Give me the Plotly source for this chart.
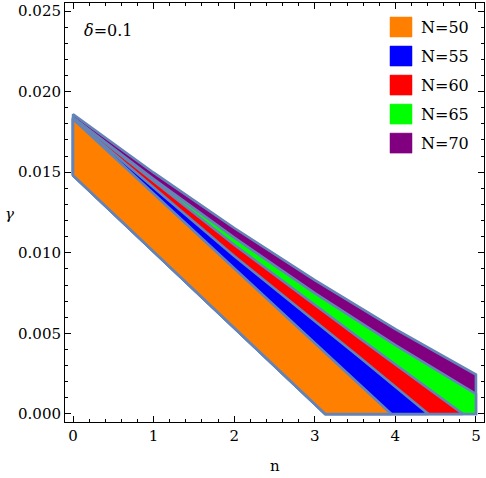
import plotly.graph_objects as go

# ── data ───────────────────────────────────────────────────────────────────
N_VALUES = [50, 55, 60, 65, 70]
COLORS = ["#ff8000", "#0000ff", "#ff0000", "#00ff00", "#800080"]
EDGE = "#6484b8"

# shared lower-left boundary of every region
LOW_N = [0.0, 3.13]
LOW_G = [0.0148, 0.0]

# upper boundary of each region (n, gamma)
UP_N = {
    50: [0.0, 3.95],
    55: [0.0, 2.0, 3.56, 4.41],
    60: [0.0, 2.0, 3.56, 4.84],
    65: [0.0, 1.0, 2.0, 3.0, 4.0, 5.0],
    70: [0.0, 1.0, 2.0, 3.0, 4.0, 5.0],
}
UP_G = {
    50: [0.0183, 0.0],
    55: [0.0183, 0.0098, 0.0035, 0.0],
    60: [0.0184, 0.0105, 0.00468, 0.0],
    65: [0.0184, 0.01457, 0.01094, 0.0075, 0.00427, 0.00124],
    70: [0.0186, 0.01497, 0.01154, 0.0083, 0.00527, 0.00244],
}

X_TICKS = [0, 1, 2, 3, 4, 5]
Y_TICKS = [0.000, 0.005, 0.010, 0.015, 0.020, 0.025]
DELTA = 0.1

SERIF = "DejaVu Serif"


def region(nv):
    un, ug = UP_N[nv], UP_G[nv]
    xs = list(LOW_N) + [un[-1]]
    ys = list(LOW_G) + [0.0]
    if ug[-1] > 0:
        xs.append(un[-1])
        ys.append(ug[-1])
    xs += un[::-1][1:]
    ys += ug[::-1][1:]
    xs.append(LOW_N[0])
    ys.append(LOW_G[0])
    return xs, ys


fig = go.Figure()

# largest region first, orange on top
for nv, col in reversed(list(zip(N_VALUES, COLORS))):
    xs, ys = region(nv)
    fig.add_trace(go.Scatter(
        x=xs, y=ys, mode="lines", fill="toself",
        fillcolor=col, line=dict(color=EDGE, width=2.6),
        name=f"N={nv}", showlegend=False, hoverinfo="skip",
    ))

# legend drawn by hand (big square swatches, like Mathematica)
for i, (nv, col) in enumerate(zip(N_VALUES, COLORS)):
    yc = 27 + i * 29
    y0 = (421.7 - (yc + 10)) / 418.7
    y1 = (421.7 - (yc - 10)) / 418.7
    fig.add_shape(type="rect", xref="paper", yref="paper",
                  x0=(390 - 65) / 419, x1=(412 - 65) / 419, y0=y0, y1=y1,
                  fillcolor=col, line=dict(color=col, width=0.5))
    fig.add_annotation(xref="paper", yref="paper",
                       x=(419 - 65) / 419, y=(421.7 - yc) / 418.7,
                       text=f"N={nv}", showarrow=False,
                       xanchor="left", yanchor="middle",
                       font=dict(family=SERIF, size=16, color="black"))

fig.add_annotation(xref="paper", yref="paper",
                   x=(82 - 65) / 419, y=(421.7 - 30) / 418.7,
                   text=f"<i>δ</i>={DELTA}", showarrow=False,
                   xanchor="left", yanchor="middle",
                   font=dict(family=SERIF, size=16, color="black"))

fig.add_annotation(xref="paper", yref="paper", x=0.5, y=(421.7 - 466) / 418.7,
                   text="n", showarrow=False, xanchor="center", yanchor="middle",
                   font=dict(family=SERIF, size=15, color="black"))
fig.add_annotation(xref="paper", yref="paper", x=(9 - 65) / 419, y=(421.7 - 214) / 418.7,
                   text="<i>γ</i>", showarrow=False, xanchor="center", yanchor="middle",
                   font=dict(family=SERIF, size=15, color="black"))

_AX = dict(
    showgrid=False, zeroline=False, showline=True, linecolor="black", linewidth=1,
    mirror="allticks", ticks="inside", ticklen=6, tickwidth=1, tickcolor="black",
    tickfont=dict(family=SERIF, size=15, color="black"),
)

fig.update_layout(
    width=486, height=478,
    font=dict(family=SERIF, color="black"),
    paper_bgcolor="white", plot_bgcolor="white",
    margin=dict(l=65, r=2, t=3, b=56),
    showlegend=False,
    xaxis=dict(**_AX, range=[-0.1, 5.1], tickvals=X_TICKS,
               minor=dict(ticks="inside", dtick=0.2, ticklen=3, tickcolor="black")),
    yaxis=dict(**_AX, range=[-0.0005, 0.0255], tickvals=Y_TICKS, tickformat=".3f",
               minor=dict(ticks="inside", dtick=0.001, ticklen=3, tickcolor="black")),
)

fig.write_html("out.html", config={"displayModeBar": False},
               post_script="document.body.style.margin='0';")
